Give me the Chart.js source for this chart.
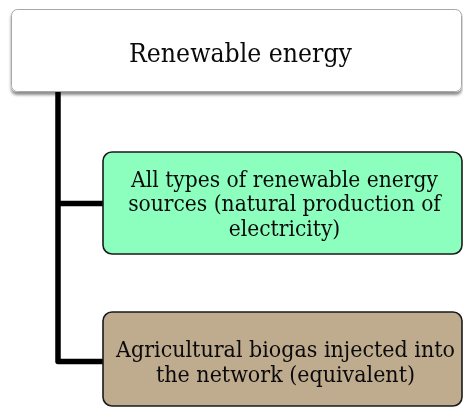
<!DOCTYPE html>
<html><head><meta charset="utf-8">
<script src="https://cdn.jsdelivr.net/npm/chart.js@4"></script>
<style>html,body{margin:0;padding:0;background:#fff;overflow:hidden}#wrap{width:463px;height:408px;position:relative}</style>
</head><body><div id="wrap"><canvas id="c"></canvas></div>
<script>
// ---- content ----
const rootLabel = ["Renewable energy"];
const childLabels = [
  ["All types of renewable energy", "sources (natural production of", "electricity)"],
  ["Agricultural biogas injected into", "the network (equivalent)"]
];

// ---- layout (diagram units = px) ----
const W = 463, H = 408;
const rootBox = {x0: 11, x1: 462, y0: 9, y1: 92, r: 6};
const childBoxes = [
  {x0: 103, x1: 462, y0: 152, y1: 254, r: 9},
  {x0: 103, x1: 462, y0: 312, y1: 406, r: 9}
];
const childFill = ["#8cffbf", "#bfab8e"];
const trunkX = 58;
const branchY = [203.5, 361.5];
const rootText = {cx: 240.5, baselines: [61.5], width: 223};
const childText = [
  {cx: 284.5, baselines: [186.5, 211, 235.5], width: 307},
  {cx: 285.5, baselines: [357, 382], width: 339}
];
const FONT = '"DejaVu Serif", serif';
const V_STRETCH = 1.1;

function rr(ctx, x, y, w, h, r) {
  ctx.beginPath();
  ctx.moveTo(x + r, y);
  ctx.lineTo(x + w - r, y);
  ctx.arcTo(x + w, y, x + w, y + r, r);
  ctx.lineTo(x + w, y + h - r);
  ctx.arcTo(x + w, y + h, x + w - r, y + h, r);
  ctx.lineTo(x + r, y + h);
  ctx.arcTo(x, y + h, x, y + h - r, r);
  ctx.lineTo(x, y + r);
  ctx.arcTo(x, y, x + r, y, r);
  ctx.closePath();
}

function fitSize(ctx, text, width) {
  ctx.font = '100px ' + FONT;
  return 100 * width / ctx.measureText(text).width;
}

const boxPlugin = {
  id: 'boxes',
  afterDatasetsDraw(chart) {
    const {ctx, scales: {x, y}} = chart;
    const px = v => x.getPixelForValue(v), py = v => y.getPixelForValue(v);
    // root box with shadow
    ctx.save();
    const rx = px(rootBox.x0), ry = py(rootBox.y0);
    const rw = px(rootBox.x1) - rx, rh = py(rootBox.y1) - ry;
    ctx.shadowColor = 'rgba(0,0,0,0.45)';
    ctx.shadowBlur = 3;
    ctx.shadowOffsetX = 0;
    ctx.shadowOffsetY = 3;
    rr(ctx, rx, ry, rw, rh, rootBox.r);
    ctx.fillStyle = '#ffffff';
    ctx.fill();
    ctx.shadowColor = 'transparent';
    ctx.lineWidth = 1;
    ctx.strokeStyle = '#a8a8a8';
    rr(ctx, rx + 0.5, ry + 0.5, rw - 1, rh - 1, rootBox.r);
    ctx.stroke();
    ctx.restore();

    // child boxes
    childBoxes.forEach((b, i) => {
      const bx = px(b.x0), by = py(b.y0);
      const bw = px(b.x1) - bx, bh = py(b.y1) - by;
      ctx.save();
      rr(ctx, bx, by, bw, bh, b.r);
      ctx.fillStyle = childFill[i];
      ctx.fill();
      ctx.lineWidth = 1.6;
      ctx.strokeStyle = '#1a1a1a';
      ctx.stroke();
      ctx.restore();
    });

    // texts
    const drawLines = (lines, spec) => {
      const size = fitSize(ctx, lines[0], spec.width);
      ctx.save();
      ctx.font = size.toFixed(2) + 'px ' + FONT;
      ctx.fillStyle = '#0a0a0a';
      ctx.textAlign = 'center';
      ctx.textBaseline = 'alphabetic';
      lines.forEach((l, k) => {
        ctx.save();
        ctx.translate(px(spec.cx), py(spec.baselines[k]));
        ctx.scale(1, V_STRETCH);
        ctx.fillText(l, 0, 0);
        ctx.restore();
      });
      ctx.restore();
    };
    drawLines(rootLabel, rootText);
    childLabels.forEach((ls, i) => drawLines(ls, childText[i]));
  }
};

const connector = [
  {data: [{x: trunkX, y: rootBox.y1}, {x: trunkX, y: branchY[1]}, {x: childBoxes[1].x0, y: branchY[1]}]},
  {data: [{x: trunkX, y: branchY[0]}, {x: childBoxes[0].x0, y: branchY[0]}]}
].map(d => Object.assign(d, {
  showLine: true, borderColor: '#000', borderWidth: 5.5, pointRadius: 0,
  borderJoinStyle: 'round', borderCapStyle: 'butt', tension: 0
}));

new Chart(document.getElementById('c'), {
  type: 'scatter',
  data: {datasets: connector},
  options: {
    responsive: true, maintainAspectRatio: false, animation: false,
    layout: {padding: 0},
    plugins: {legend: {display: false}, tooltip: {enabled: false}},
    scales: {
      x: {type: 'linear', min: 0, max: W, display: false},
      y: {type: 'linear', min: 0, max: H, reverse: true, display: false}
    }
  },
  plugins: [boxPlugin]
});
</script>
</body></html>
